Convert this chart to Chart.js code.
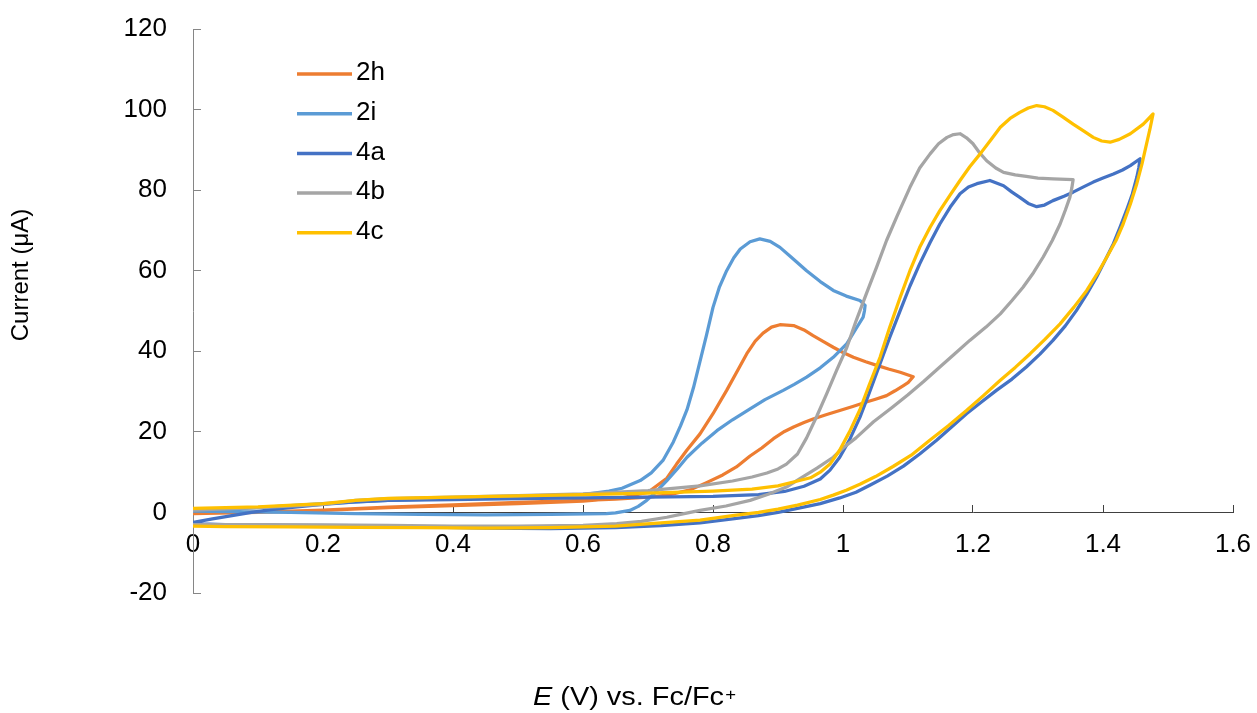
<!DOCTYPE html>
<html>
<head>
<meta charset="utf-8">
<script src="https://cdn.jsdelivr.net/npm/chart.js@4.4.1/dist/chart.umd.min.js"></script>
<style>
  html, body { margin: 0; padding: 0; background: #fff; }
  #chart { display: block; }
</style>
</head>
<body>
<canvas id="chart" width="1257" height="713"></canvas>
<script>
// Series names and colours
const seriesNames = ["2h", "2i", "4a", "4b", "4c"];
const seriesColors = ["#ED7D31", "#5B9BD5", "#4472C4", "#A5A5A5", "#FFC000"];

// Axis ticks
const xTickValues = [0, 0.2, 0.4, 0.6, 0.8, 1, 1.2, 1.4, 1.6];
const xTickLabels = ["0", "0.2", "0.4", "0.6", "0.8", "1", "1.2", "1.4", "1.6"];
const yTickValues = [-20, 0, 20, 40, 60, 80, 100, 120];
const yTickLabels = ["-20", "0", "20", "40", "60", "80", "100", "120"];

// Cyclic voltammograms: potential E (V) and current I (uA)
const e2h = [0.00, 0.10, 0.20, 0.30, 0.40, 0.50, 0.60, 0.66, 0.70, 0.729, 0.744, 0.76, 0.78, 0.80, 0.821, 0.837, 0.852, 0.865, 0.877, 0.89, 0.903, 0.924, 0.94, 0.954, 0.97, 0.985, 1.0, 1.016, 1.035, 1.052, 1.07, 1.088, 1.108,
  1.100, 1.093, 1.08, 1.067, 1.05, 1.036, 1.015, 0.995, 0.975, 0.954, 0.94, 0.924, 0.91, 0.893, 0.875, 0.857, 0.836, 0.815, 0.79, 0.765, 0.73, 0.70, 0.65, 0.60, 0.50, 0.40, 0.30, 0.20, 0.10, 0.00];
const i2h = [-0.3, 0.0, 0.5, 1.2, 1.7, 2.2, 2.8, 3.6, 5.0, 8.5, 12.0, 15.5, 19.5, 24.5, 30.3, 35.0, 39.4, 42.5, 44.5, 46.0, 46.6, 46.4, 45.3, 43.9, 42.4, 41.0, 39.7, 38.5, 37.4, 36.5, 35.6, 34.8, 33.7,
  32.2, 31.5, 30.2, 29.0, 28.1, 27.4, 26.3, 25.3, 24.3, 23.2, 22.3, 21.2, 20.1, 18.3, 16.0, 14.0, 11.3, 9.3, 7.4, 5.6, 4.3, 3.8, 3.3, 3.0, 2.5, 1.9, 1.3, 0.6, 0.1, -0.3];

const e2i = [0.00, 0.10, 0.20, 0.30, 0.40, 0.50, 0.60, 0.64, 0.66, 0.688, 0.705, 0.723, 0.739, 0.75, 0.760, 0.770, 0.780, 0.790, 0.800, 0.810, 0.821, 0.832, 0.842, 0.857, 0.872, 0.888, 0.903, 0.92, 0.944, 0.965, 0.985, 1.005, 1.026, 1.034,
  1.033, 1.031, 1.02, 1.006, 0.985, 0.965, 0.944, 0.925, 0.908, 0.88, 0.857, 0.83, 0.806, 0.783, 0.760, 0.745, 0.729, 0.713, 0.698, 0.685, 0.672, 0.65, 0.636, 0.55, 0.45, 0.35, 0.25, 0.15, 0.05, 0.00];
const i2i = [0.3, 1.2, 2.2, 3.0, 3.4, 3.9, 4.4, 5.3, 6.0, 7.9, 9.8, 12.9, 17.5, 21.5, 25.5, 31.0, 37.5, 44.0, 50.9, 56.0, 60.0, 63.2, 65.4, 67.2, 67.9, 67.3, 65.8, 63.4, 60.0, 57.3, 55.1, 53.7, 52.6, 51.4,
  50.0, 48.5, 45.6, 41.9, 38.5, 35.9, 33.6, 31.8, 30.3, 28.0, 25.7, 23.0, 20.3, 17.2, 13.7, 10.8, 7.9, 5.2, 3.0, 1.5, 0.5, -0.1, -0.3, -0.5, -0.6, -0.5, -0.3, 0.0, 0.2, 0.3];

const e4a = [0.00, 0.03, 0.06, 0.09, 0.12, 0.16, 0.20, 0.25, 0.30, 0.40, 0.50, 0.60, 0.70, 0.80, 0.87, 0.91, 0.94, 0.965, 0.98, 0.995, 1.01, 1.026, 1.04, 1.057, 1.072, 1.088, 1.103, 1.118, 1.134, 1.149, 1.165, 1.180, 1.193, 1.206, 1.226, 1.247, 1.26, 1.272, 1.285, 1.298, 1.31, 1.323, 1.34, 1.354, 1.37, 1.385, 1.40, 1.416, 1.43, 1.442, 1.457,
  1.455, 1.452, 1.445, 1.436, 1.426, 1.416, 1.403, 1.390, 1.375, 1.359, 1.342, 1.323, 1.303, 1.282, 1.26, 1.236, 1.213, 1.190, 1.167, 1.144, 1.118, 1.093, 1.068, 1.042, 1.02, 0.995, 0.965, 0.93, 0.90, 0.87, 0.83, 0.78, 0.72, 0.65, 0.55, 0.45, 0.35, 0.25, 0.15, 0.05, 0.00];
const i4a = [-2.5, -1.6, -0.8, 0.0, 0.7, 1.4, 2.0, 2.6, 3.0, 3.2, 3.4, 3.6, 3.8, 4.0, 4.4, 5.2, 6.5, 8.3, 10.5, 13.7, 18.0, 23.6, 29.5, 36.9, 43.5, 50.1, 56.2, 61.7, 67.0, 71.6, 75.8, 79.1, 80.8, 81.6, 82.4, 81.1, 79.5, 78.2, 76.7, 75.9, 76.3, 77.4, 78.5, 79.5, 80.8, 82.0, 83.0, 84.0, 85.0, 86.1, 87.8,
  85.5, 83.2, 79.0, 74.9, 70.7, 66.7, 62.5, 58.4, 54.2, 50.1, 46.3, 42.7, 39.3, 36.1, 33.1, 30.3, 27.4, 24.5, 21.2, 17.9, 14.5, 11.5, 9.0, 6.8, 5.0, 3.6, 2.2, 1.0, 0.0, -0.8, -1.6, -2.6, -3.3, -3.8, -4.0, -3.9, -3.6, -3.3, -3.2, -3.0, -2.8];

const e4b = [0.00, 0.10, 0.20, 0.25, 0.30, 0.40, 0.50, 0.60, 0.70, 0.78, 0.83, 0.86, 0.883, 0.90, 0.913, 0.93, 0.944, 0.96, 0.975, 0.99, 1.006, 1.02, 1.036, 1.052, 1.067, 1.083, 1.103, 1.118, 1.134, 1.147, 1.160, 1.170, 1.180, 1.190, 1.200, 1.21, 1.221, 1.235, 1.247, 1.265, 1.282, 1.30, 1.323, 1.354,
  1.352, 1.349, 1.342, 1.334, 1.322, 1.308, 1.293, 1.277, 1.26, 1.242, 1.22, 1.195, 1.172, 1.149, 1.124, 1.10, 1.075, 1.047, 1.02, 1.0, 0.985, 0.96, 0.935, 0.913, 0.885, 0.857, 0.82, 0.78, 0.75, 0.729, 0.69, 0.652, 0.60, 0.50, 0.40, 0.30, 0.20, 0.10, 0.00];
const i4b = [0.6, 1.2, 2.0, 3.0, 3.4, 3.8, 4.2, 4.6, 5.4, 6.6, 7.8, 8.8, 9.8, 10.8, 12.0, 14.5, 18.5, 24.0, 29.5, 35.2, 41.0, 47.5, 54.3, 61.0, 67.5, 73.5, 80.7, 85.5, 89.0, 91.5, 93.1, 93.8, 94.0, 93.0, 91.5, 89.3, 87.3, 85.5, 84.4, 83.8, 83.4, 83.0, 82.8, 82.6,
  80.5, 78.2, 75.0, 71.6, 67.5, 63.4, 59.5, 55.9, 52.6, 49.3, 46.0, 42.7, 39.4, 36.1, 32.5, 29.2, 26.0, 22.5, 18.5, 16.0, 13.7, 11.0, 8.5, 6.3, 4.5, 3.0, 1.6, 0.5, -0.5, -1.2, -2.2, -2.8, -3.2, -3.4, -3.4, -3.2, -3.1, -3.0, -3.0];

const e4c = [0.00, 0.10, 0.20, 0.25, 0.30, 0.40, 0.50, 0.60, 0.70, 0.80, 0.86, 0.90, 0.93, 0.95, 0.965, 0.98, 0.995, 1.01, 1.026, 1.04, 1.057, 1.072, 1.088, 1.103, 1.118, 1.134, 1.149, 1.165, 1.180, 1.195, 1.211, 1.227, 1.242, 1.257, 1.272, 1.285, 1.298, 1.31, 1.323, 1.338, 1.354, 1.37, 1.385, 1.398, 1.411, 1.425, 1.442, 1.462, 1.477,
  1.472, 1.467, 1.46, 1.452, 1.442, 1.431, 1.42, 1.406, 1.391, 1.375, 1.355, 1.334, 1.311, 1.288, 1.265, 1.242, 1.216, 1.190, 1.162, 1.134, 1.105, 1.077, 1.05, 1.026, 1.005, 0.985, 0.965, 0.93, 0.90, 0.87, 0.83, 0.78, 0.72, 0.65, 0.55, 0.45, 0.35, 0.25, 0.15, 0.05, 0.00];
const i4c = [1.0, 1.4, 2.2, 3.0, 3.5, 3.8, 4.1, 4.4, 4.8, 5.3, 5.8, 6.6, 7.8, 8.6, 10.0, 12.0, 15.5, 20.0, 25.5, 31.5, 38.5, 46.0, 53.4, 60.0, 65.8, 70.8, 74.9, 78.8, 82.4, 85.8, 89.0, 92.4, 95.6, 97.8, 99.3, 100.4, 101.0, 100.7, 99.8, 98.2, 96.4, 94.7, 93.1, 92.2, 91.9, 92.6, 94.0, 96.4, 98.9,
  95.0, 91.5, 86.5, 81.6, 76.5, 71.6, 67.5, 63.4, 59.2, 55.1, 50.9, 46.8, 43.0, 39.4, 36.0, 32.8, 29.0, 25.3, 21.5, 18.0, 14.2, 11.4, 8.9, 7.0, 5.5, 4.3, 3.2, 1.8, 0.8, 0.0, -0.8, -1.9, -2.6, -3.4, -3.8, -3.9, -3.8, -3.7, -3.6, -3.5, -3.4];

const seriesE = [e2h, e2i, e4a, e4b, e4c];
const seriesI = [i2h, i2i, i4a, i4b, i4c];

const FONT = "'Liberation Sans', Arial, sans-serif";
Chart.defaults.font.family = FONT;
Chart.defaults.font.size = 26;
Chart.defaults.color = "#000";

function toPoints(es, is) {
  return es.map((e, k) => ({ x: e, y: is[k] }));
}

// later series drawn on top, as in the original
const datasets = seriesNames.map((name, k) => ({
  label: name,
  data: toPoints(seriesE[k], seriesI[k]),
  borderColor: seriesColors[k],
  backgroundColor: seriesColors[k],
  borderWidth: 3.25,
  pointRadius: 0,
  pointHoverRadius: 0,
  showLine: true,
  fill: false,
  tension: 0,
  borderJoinStyle: "round",
  borderCapStyle: "round",
  order: seriesNames.length - 1 - k,
}));

// legend inside the plot and the two axis titles
const decorations = {
  id: "decorations",
  afterDraw(chart) {
    const ctx = chart.ctx;
    ctx.save();
    ctx.fillStyle = "#000";
    ctx.font = `26px ${FONT}`;
    ctx.textBaseline = "middle";
    ctx.textAlign = "left";
    seriesNames.forEach((name, k) => {
      const y = 74 + k * 39.7;
      ctx.strokeStyle = seriesColors[k];
      ctx.lineWidth = 3.5;
      ctx.lineCap = "butt";
      ctx.beginPath();
      ctx.moveTo(297, y);
      ctx.lineTo(352, y);
      ctx.stroke();
      ctx.fillText(name, 356, y - 1);
    });

    // y title
    ctx.save();
    ctx.font = `24px ${FONT}`;
    ctx.translate(21, 275);
    ctx.rotate(-Math.PI / 2);
    ctx.textAlign = "center";
    ctx.fillText("Current (\u03bcA)", 0, 0);
    ctx.restore();

    // x title: E (V) vs. Fc/Fc+  (the original is a little wider than the font)
    ctx.textBaseline = "alphabetic";
    const partE = "E";
    const partMid = " (V) vs. Fc/Fc";
    const partSup = "+";
    ctx.font = `italic 25px ${FONT}`;
    const wE = ctx.measureText(partE).width;
    ctx.font = `25px ${FONT}`;
    const wMid = ctx.measureText(partMid).width;
    ctx.font = `16px ${FONT}`;
    const wSup = ctx.measureText(partSup).width;
    const total = wE + wMid + wSup + 1;
    const sx = 203 / total;
    ctx.translate(634.5, 705);
    ctx.scale(sx, 1);
    let x = -total / 2;
    ctx.font = `italic 25px ${FONT}`;
    ctx.fillText(partE, x, 0);
    x += wE;
    ctx.font = `25px ${FONT}`;
    ctx.fillText(partMid, x, 0);
    x += wMid;
    ctx.font = `16px ${FONT}`;
    ctx.fillText(partSup, x + 1, -5);
    ctx.restore();
  },
};

new Chart(document.getElementById("chart"), {
  type: "scatter",
  data: { datasets },
  options: {
    responsive: false,
    animation: false,
    devicePixelRatio: 1,
    layout: { padding: { top: 29, bottom: 120, left: 0, right: 24 } },
    plugins: {
      legend: { display: false },
      tooltip: { enabled: false },
    },
    scales: {
      x: {
        type: "linear",
        min: 0,
        max: 1.6,
        position: { y: 0 },
        afterBuildTicks: (s) => { s.ticks = xTickValues.map((v) => ({ value: v })); },
        afterFit: (s) => { s.paddingLeft = 0; s.paddingRight = 0; s.paddingTop = 0; s.paddingBottom = 0; },
        ticks: {
          autoSkip: false,
          maxRotation: 0,
          padding: 25,
          color: "#000",
          font: { size: 26 },
          callback: (v, idx) => xTickLabels[idx],
        },
        grid: {
          display: true,
          drawOnChartArea: false,
          drawTicks: true,
          tickLength: -8,
          color: "#404040",
          tickColor: "#404040",
          tickWidth: 1,
        },
        border: { display: true, color: "#404040", width: 1 },
      },
      y: {
        type: "linear",
        min: -20,
        max: 120,
        position: "left",
        afterBuildTicks: (s) => { s.ticks = yTickValues.map((v) => ({ value: v })); },
        afterFit: (s) => { s.width = 193; s.paddingTop = 0; s.paddingBottom = 0; s.paddingLeft = 0; s.paddingRight = 0; },
        ticks: {
          autoSkip: false,
          padding: 34,
          color: "#000",
          font: { size: 26 },
          callback: (v, idx) => yTickLabels[idx],
        },
        grid: {
          display: true,
          drawOnChartArea: false,
          drawTicks: true,
          tickLength: -8,
          color: "#868686",
          tickColor: "#868686",
          tickWidth: 1,
        },
        border: { display: true, color: "#868686", width: 1 },
      },
    },
  },
  plugins: [decorations],
});
</script>
</body>
</html>
